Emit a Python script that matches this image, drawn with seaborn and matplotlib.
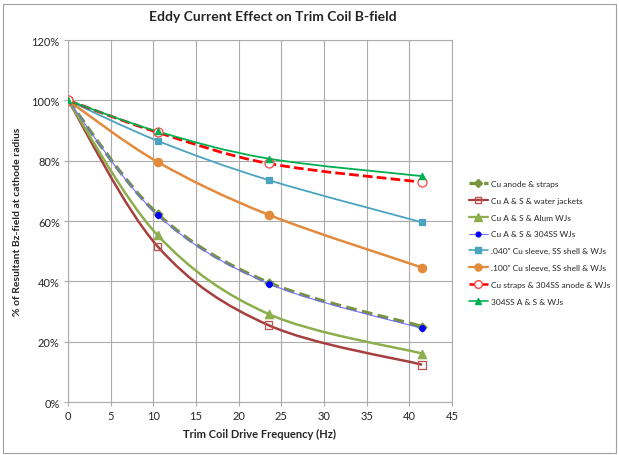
import matplotlib
matplotlib.use("Agg")
import matplotlib.pyplot as plt
import seaborn as sns
import pandas as pd
import numpy as np
from matplotlib.path import Path
from matplotlib.patches import PathPatch, Rectangle
from matplotlib.lines import Line2D

# Данные (частота, Гц и % поля)
freq = [0, 10.5, 23.5, 41.5]
cu_anode_straps = [100, 62.3, 39.6, 25.0]
cu_as_water_jackets = [100, 51.6, 25.5, 12.4]
cu_as_alum_wjs = [100, 55.3, 29.2, 16.1]
cu_as_304ss_wjs = [100, 62.0, 39.3, 24.4]
cu_sleeve_040 = [100, 86.6, 73.6, 59.6]
cu_sleeve_100 = [100, 79.6, 62.1, 44.6]
cu_straps_304ss_anode = [100, 89.4, 79.1, 72.9]
ss304_as_wjs = [100, 89.7, 80.7, 74.9]

series_names = [
    "Cu anode & straps",
    "Cu A & S & water jackets",
    "Cu A & S & Alum WJs",
    "Cu A & S & 304SS WJs",
    ".040\" Cu sleeve, SS shell & WJs",
    ".100\" Cu sleeve, SS shell & WJs",
    "Cu straps & 304SS anode & WJs",
    "304SS A & S & WJs",
]
series_values = [
    cu_anode_straps, cu_as_water_jackets, cu_as_alum_wjs, cu_as_304ss_wjs,
    cu_sleeve_040, cu_sleeve_100, cu_straps_304ss_anode, ss304_as_wjs,
]

# Стили линий
styles = [
    dict(color="#77933C", ls=(0, (3, 1.5)), lw=2.6, marker="D", ms=4.5, mfc="#77933C", mec="#77933C"),
    dict(color="#A5403E", ls="-", lw=1.8, marker="s", ms=5.5, mfc="none", mec="#C0504D"),
    dict(color="#8CAE4C", ls="-", lw=1.8, marker="^", ms=6, mfc="#8CAE4C", mec="#8CAE4C"),
    dict(color="#7070FF", ls="-", lw=0.8, marker="o", ms=4, mfc="#0000FF", mec="#0000FF"),
    dict(color="#4BA3BF", ls="-", lw=1.3, marker="s", ms=4.5, mfc="#4BA3BF", mec="#4BA3BF"),
    dict(color="#E38B3D", ls="-", lw=1.8, marker="o", ms=6, mfc="#E38B3D", mec="#E38B3D"),
    dict(color="#FF0000", ls=(0, (3.5, 1.5)), lw=2.0, marker="o", ms=6.5, mfc="white", mec="#FF4040"),
    dict(color="#00B050", ls="-", lw=1.3, marker="^", ms=4.5, mfc="#00B050", mec="#00B050"),
]

rows = []
for name, vals in zip(series_names, series_values):
    for f, v in zip(freq, vals):
        rows.append({"series": name, "freq": f, "pct": v / 100})
df = pd.DataFrame(rows)

sns.set_style("white")
plt.rcParams["font.family"] = ["Lato", "DejaVu Sans"]

fig = plt.figure(figsize=(6.19, 4.56), dpi=100)
ax = fig.add_axes([0.110, 0.116, 0.620, 0.794])

# Рамка вокруг всей диаграммы
fig.patches.append(Rectangle((0.005, 0.005), 0.99, 0.985, transform=fig.transFigure,
                             fill=False, edgecolor="#A0A0A0", lw=0.8))


def smooth_path(xs, ys):
    # сглаживание как в Excel (кубические кривые Безье)
    pts = np.column_stack([xs, ys])
    n = len(pts)
    verts = [pts[0]]
    codes = [Path.MOVETO]
    for i in range(n - 1):
        p0 = pts[i - 1] if i > 0 else pts[i]
        p1 = pts[i]
        p2 = pts[i + 1]
        p3 = pts[i + 2] if i + 2 < n else pts[i + 1]
        c1 = p1 + (p2 - p0) / 6
        c2 = p2 - (p3 - p1) / 6
        verts += [c1, c2, p2]
        codes += [Path.CURVE4] * 3
    return Path(verts, codes)


handles = []
for name, st in zip(series_names, styles):
    sub = df[df["series"] == name]
    path = smooth_path(sub["freq"].values, sub["pct"].values)
    ax.add_patch(PathPatch(path, facecolor="none", edgecolor=st["color"], lw=st["lw"],
                           ls=st["ls"], zorder=3))
    sns.scatterplot(data=sub, x="freq", y="pct", ax=ax, marker=st["marker"], s=st["ms"] ** 2,
                    facecolor=st["mfc"], edgecolor=st["mec"], linewidth=0.9, zorder=4, legend=False)
    handles.append(Line2D([], [], color=st["color"], ls=st["ls"], lw=st["lw"] * 0.9, marker=st["marker"],
                          ms=st["ms"] * 0.85, mfc=st["mfc"], mec=st["mec"]))

ax.set_xlim(0, 45)
ax.set_ylim(0, 1.2)
ax.set_xticks(range(0, 46, 5))
ax.set_yticks(np.arange(0, 1.21, 0.2))
ax.set_yticklabels([f"{int(round(t * 100))}%" for t in np.arange(0, 1.21, 0.2)])
ax.grid(True, color="#ABABAB", lw=0.8)
ax.set_axisbelow(True)
for sp in ax.spines.values():
    sp.set_color("#ABABAB")
    sp.set_linewidth(0.8)
ax.tick_params(axis="both", labelsize=8, length=3, color="#ABABAB", pad=3, labelcolor="#262626")
ax.tick_params(axis="x", direction="out", bottom=True)
ax.tick_params(axis="y", direction="out", left=True)

ax.set_xlabel("Trim Coil Drive Frequency (Hz)", fontsize=8, fontweight="bold", labelpad=5)
ax.set_ylabel("% of Resultant Bz-field at cathode radius", fontsize=7.5, fontweight="bold", labelpad=7)
fig.text(0.44, 0.962, "Eddy Current Effect on Trim Coil B-field", ha="center", va="center",
         fontsize=10, fontweight="bold")

fig.legend(handles, series_names, loc="upper left", bbox_to_anchor=(0.752, 0.61),
           frameon=False, fontsize=6.0, handlelength=2.3, labelspacing=1.17, borderaxespad=0,
           handletextpad=0.35)

fig.savefig("out.png", dpi=100)
